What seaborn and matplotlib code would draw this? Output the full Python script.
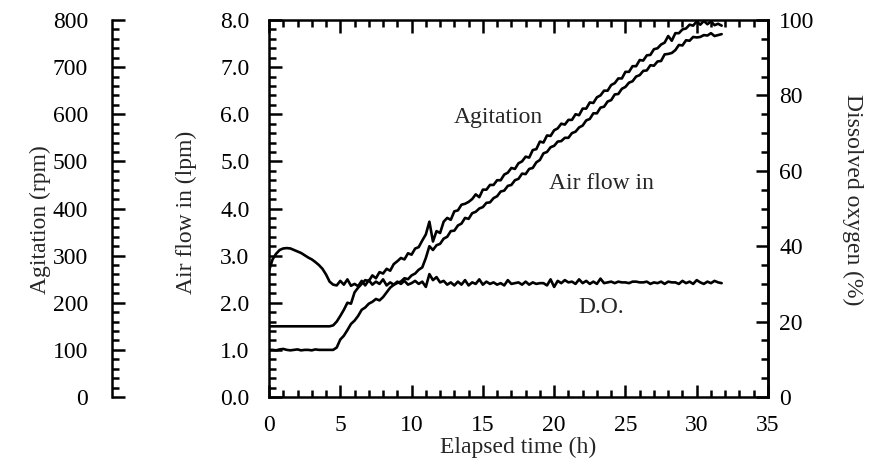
import matplotlib
matplotlib.use("Agg")
import matplotlib.pyplot as plt
import seaborn as sns
import numpy as np
from matplotlib.ticker import MultipleLocator, FormatStrFormatter

# ---------------- data ----------------
time_h = [
    0.0, 0.25, 0.5, 0.75, 1.0, 1.25, 1.5, 1.75, 2.0, 2.25, 2.5, 2.75, 3.0, 3.25, 3.5, 3.75,
    4.0, 4.25, 4.5, 4.75, 5.0, 5.25, 5.5, 5.75, 6.0, 6.25, 6.5, 6.75, 7.0, 7.25, 7.5, 7.75,
    8.0, 8.25, 8.5, 8.75, 9.0, 9.25, 9.5, 9.75, 10.0, 10.25, 10.5, 10.75, 11.0, 11.25, 11.5, 11.75,
    12.0, 12.25, 12.5, 12.75, 13.0, 13.25, 13.5, 13.75, 14.0, 14.25, 14.5, 14.75, 15.0, 15.25, 15.5, 15.75,
    16.0, 16.25, 16.5, 16.75, 17.0, 17.25, 17.5, 17.75, 18.0, 18.25, 18.5, 18.75, 19.0, 19.25, 19.5, 19.75,
    20.0, 20.25, 20.5, 20.75, 21.0, 21.25, 21.5, 21.75, 22.0, 22.25, 22.5, 22.75, 23.0, 23.25, 23.5, 23.75,
    24.0, 24.25, 24.5, 24.75, 25.0, 25.25, 25.5, 25.75, 26.0, 26.25, 26.5, 26.75, 27.0, 27.25, 27.5, 27.75,
    28.0, 28.25, 28.5, 28.75, 29.0, 29.25, 29.5, 29.75, 30.0, 30.25, 30.5, 30.75, 31.0, 31.25, 31.5, 31.75,
]

agitation_rpm = [
    150, 150, 150, 150, 150, 150, 150, 150, 150, 150, 150, 150, 150, 150, 150, 150,
    150, 150, 152, 160, 172, 185, 200, 198, 222, 232, 240, 248, 246, 258, 252, 265,
    262, 272, 268, 282, 288, 295, 292, 305, 302, 315, 318, 332, 345, 372, 330, 352,
    348, 372, 380, 376, 394, 396, 408, 410, 414, 420, 430, 424, 440, 440, 450, 450,
    460, 460, 472, 476, 486, 484, 496, 500, 510, 508, 524, 526, 542, 540, 555, 554,
    566, 570, 580, 578, 588, 588, 600, 598, 612, 612, 625, 624, 636, 640, 650, 650,
    662, 666, 676, 676, 690, 690, 702, 702, 715, 714, 725, 726, 738, 740, 748, 752,
    766, 756, 772, 772, 780, 782, 790, 788, 797, 790, 798, 791, 797, 789, 792, 788,
]

air_flow_lpm = [
    1.00, 1.00, 0.99, 1.01, 1.02, 1.00, 0.99, 1.00, 1.01, 0.99, 1.00, 1.00, 0.99, 1.01, 1.00, 1.00,
    1.00, 1.00, 1.00, 1.05, 1.22, 1.30, 1.42, 1.55, 1.62, 1.72, 1.85, 1.90, 1.98, 2.02, 2.08, 2.05,
    2.12, 2.22, 2.32, 2.38, 2.42, 2.45, 2.52, 2.50, 2.58, 2.62, 2.70, 2.75, 2.95, 3.20, 3.12, 3.22,
    3.25, 3.36, 3.40, 3.52, 3.53, 3.64, 3.68, 3.80, 3.78, 3.90, 3.93, 4.00, 4.03, 4.12, 4.13, 4.22,
    4.26, 4.36, 4.38, 4.48, 4.50, 4.60, 4.63, 4.74, 4.73, 4.84, 4.86, 4.98, 5.03, 5.17, 5.20, 5.30,
    5.33, 5.42, 5.43, 5.50, 5.50, 5.60, 5.63, 5.72, 5.76, 5.87, 5.90, 6.02, 6.02, 6.14, 6.16, 6.27,
    6.30, 6.42, 6.43, 6.54, 6.58, 6.67, 6.70, 6.80, 6.83, 6.92, 6.93, 7.04, 7.03, 7.12, 7.13, 7.27,
    7.28, 7.30, 7.36, 7.47, 7.46, 7.57, 7.56, 7.64, 7.63, 7.64, 7.68, 7.67, 7.72, 7.66, 7.68, 7.70,
]

dissolved_oxygen_pct = [
    33.5, 36.5, 38.0, 39.0, 39.4, 39.5, 39.4, 39.0, 38.6, 38.2, 37.6, 37.0, 36.5, 35.8, 35.0, 34.0,
    32.5, 30.6, 29.8, 29.6, 30.8, 29.8, 31.2, 29.5, 30.0, 29.4, 30.8, 29.6, 31.0, 29.8, 30.6, 30.0,
    31.2, 29.6, 30.4, 29.8, 30.6, 30.0, 30.8, 29.8, 30.2, 30.8, 30.0, 30.6, 29.2, 32.6, 31.0, 31.8,
    30.4, 30.8, 29.8, 30.4, 29.6, 30.6, 29.8, 31.0, 29.6, 30.4, 30.0, 31.2, 29.8, 30.6, 30.0, 30.4,
    29.8, 30.2, 29.6, 31.0, 30.0, 30.2, 30.4, 29.8, 30.6, 29.8, 30.4, 30.0, 30.2, 30.2, 29.6, 31.2,
    29.2, 30.8, 30.2, 31.0, 30.4, 30.6, 30.0, 31.2, 30.2, 30.8, 30.0, 30.6, 30.0, 31.4, 30.2, 30.4,
    30.6, 30.2, 30.6, 30.4, 30.4, 30.2, 30.6, 30.6, 30.4, 30.4, 30.6, 30.0, 30.4, 30.2, 30.6, 30.0,
    30.6, 30.4, 30.4, 30.0, 30.8, 30.2, 30.6, 30.0, 31.0, 30.4, 30.0, 30.6, 30.2, 30.8, 30.4, 30.2,
]

x_ticks = [0, 5, 10, 15, 20, 25, 30, 35]
air_ticks = [0, 1, 2, 3, 4, 5, 6, 7, 8]
rpm_ticks = [0, 100, 200, 300, 400, 500, 600, 700, 800]
do_ticks = [0, 20, 40, 60, 80, 100]

# ---------------- style ----------------
sns.set_theme(style="white")
plt.rcParams["font.family"] = ["Liberation Serif", "DejaVu Serif"]
FS = 17
LW = 1.9
SPW = 1.8

fig = plt.figure(figsize=(8.71, 4.63), dpi=100)
fig.subplots_adjust(left=269 / 871, right=768 / 871, top=1 - 20 / 463, bottom=1 - 397 / 463)
ax = fig.add_subplot(111)
ax_do = ax.twinx()
ax_ag = ax.twinx()

sns.lineplot(x=time_h, y=air_flow_lpm, ax=ax, color="black", linewidth=LW, estimator=None)
sns.lineplot(x=time_h, y=dissolved_oxygen_pct, ax=ax_do, color="black", linewidth=LW, estimator=None)
sns.lineplot(x=time_h, y=agitation_rpm, ax=ax_ag, color="black", linewidth=LW, estimator=None)

# main axis (air flow)
ax.set_xlim(0, 35)
ax.set_ylim(0, 8)
ax.set_xticks(x_ticks)
ax.set_yticks(air_ticks)
ax.xaxis.set_minor_locator(MultipleLocator(1))
ax.yaxis.set_minor_locator(MultipleLocator(0.2))
ax.yaxis.set_major_formatter(FormatStrFormatter("%.1f"))
ax.tick_params(axis="x", which="both", direction="in", top=True, bottom=True, colors="black",
               labelsize=FS, pad=13, width=SPW)
ax.tick_params(axis="y", which="both", direction="in", left=True, right=False, colors="black",
               labelsize=FS, pad=14, width=SPW)
ax.tick_params(which="major", length=9)
ax.tick_params(which="minor", length=5)
for s in ax.spines.values():
    s.set_visible(True)
    s.set_linewidth(SPW)
    s.set_color("black")
ax.set_xlabel("")
ax.set_ylabel("")

# dissolved oxygen axis (right)
ax_do.set_ylim(0, 100)
ax_do.set_yticks(do_ticks)
ax_do.yaxis.set_minor_locator(MultipleLocator(5))
ax_do.tick_params(axis="y", which="both", direction="in", right=True, left=False, colors="black",
                  labelsize=FS, pad=8, width=SPW)
ax_do.tick_params(which="major", length=9)
ax_do.tick_params(which="minor", length=5)
for name, s in ax_do.spines.items():
    s.set_visible(name == "right")
    s.set_linewidth(SPW)
    s.set_color("black")
ax_do.set_ylabel("")

# agitation axis (far left)
ax_ag.set_ylim(0, 800)
ax_ag.spines["left"].set_position(("axes", -0.315))
ax_ag.yaxis.set_ticks_position("left")
ax_ag.yaxis.set_label_position("left")
ax_ag.set_yticks(rpm_ticks)
ax_ag.yaxis.set_minor_locator(MultipleLocator(20))
ax_ag.tick_params(axis="y", which="both", direction="in", left=True, right=False, colors="black",
                  labelsize=FS, pad=17, width=SPW)
ax_ag.tick_params(which="major", length=9)
ax_ag.tick_params(which="minor", length=5)
for name, s in ax_ag.spines.items():
    s.set_visible(name == "left")
    s.set_linewidth(SPW)
    s.set_color("black")
ax_ag.set_ylabel("")

# axis titles
ax.text(0.5, -0.135, "Elapsed time (h)", transform=ax.transAxes, ha="center", va="center",
        fontsize=FS)
ax.text(-0.166, 0.49, "Air flow in (lpm)", transform=ax.transAxes, ha="center", va="center",
        rotation=90, fontsize=FS)
ax.text(-0.459, 0.47, "Agitation (rpm)", transform=ax.transAxes, ha="center", va="center",
        rotation=90, fontsize=FS)
ax.text(1.170, 0.523, "Dissolved oxygen (%)", transform=ax.transAxes, ha="center", va="center",
        rotation=270, fontsize=FS)

# in-plot labels
ax.text(16.1, 5.94, "Agitation", ha="center", va="center", fontsize=FS)
ax.text(23.35, 4.54, "Air flow in", ha="center", va="center", fontsize=FS)
ax.text(23.3, 1.89, "D.O.", ha="center", va="center", fontsize=FS)

fig.savefig("out.png", dpi=100, facecolor="white")
